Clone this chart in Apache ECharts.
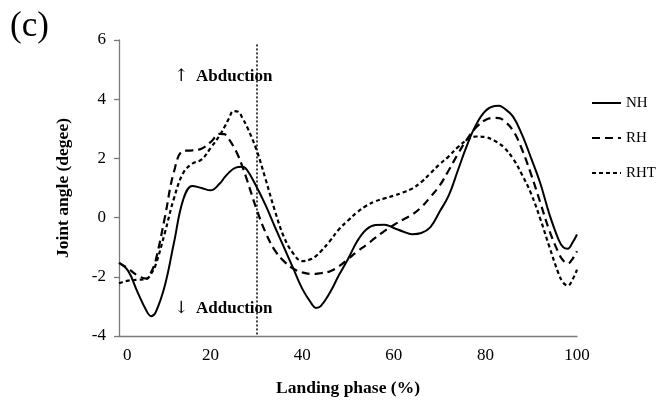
<!DOCTYPE html>
<html>
<head>
<meta charset="utf-8">
<script src="https://cdn.jsdelivr.net/npm/echarts@6/dist/echarts.min.js"></script>
<style>
html,body{margin:0;padding:0;background:#fff;}
#chart{width:658px;height:406px;}
</style>
</head>
<body>
<div id="chart"></div>
<script>
// Landing phase (%) sample positions shared by all series
const phase = [0,2,4,6,7,8,10,12,14,16,18,20,22,23,24,25,26,27,28,30,32,34,36,38,40,42,43,44,46,48,50,52,54,56,58,60,62,64,66,68,70,72,74,76,78,80,82,83,84,86,88,90,92,94,96,97,98,99,100];
const nh  = [-1.53,-1.8,-2.5,-3.15,-3.33,-3.2,-2.3,-0.85,0.6,1.07,1.0,0.92,1.15,1.35,1.52,1.65,1.71,1.72,1.6,1.05,0.42,-0.3,-1.0,-1.7,-2.4,-2.9,-3.05,-3.0,-2.55,-1.95,-1.4,-0.8,-0.4,-0.25,-0.24,-0.35,-0.47,-0.56,-0.52,-0.32,0.2,0.75,1.6,2.45,3.15,3.6,3.77,3.78,3.7,3.42,2.8,2.0,1.15,0.1,-0.75,-1.0,-1.05,-0.85,-0.57];
const rh  = [-1.53,-1.72,-1.95,-2.06,-1.85,-1.45,0.0,1.55,2.25,2.27,2.33,2.55,2.83,2.82,2.65,2.4,2.1,1.7,1.25,0.3,-0.5,-1.1,-1.47,-1.72,-1.85,-1.9,-1.9,-1.88,-1.82,-1.65,-1.4,-1.15,-0.92,-0.68,-0.45,-0.25,-0.07,0.1,0.35,0.7,1.08,1.6,2.15,2.65,3.05,3.3,3.37,3.36,3.28,2.95,2.3,1.45,0.5,-0.45,-1.2,-1.45,-1.55,-1.4,-1.14];
const rht = [-2.22,-2.13,-2.1,-2.07,-1.9,-1.6,-0.52,0.65,1.5,1.82,1.96,2.35,2.78,3.05,3.35,3.6,3.58,3.35,3.05,2.3,1.3,0.25,-0.65,-1.2,-1.47,-1.4,-1.3,-1.15,-0.8,-0.4,-0.1,0.18,0.4,0.55,0.65,0.74,0.85,0.98,1.2,1.5,1.8,2.07,2.38,2.62,2.74,2.72,2.6,2.5,2.38,2.0,1.45,0.8,-0.05,-1.0,-1.9,-2.2,-2.3,-2.1,-1.76];
const seriesNames = ['NH','RH','RHT'];
const yTicks = {min:-4, max:6, interval:2};
const xTicks = {min:0, max:100, interval:20};
const markerPhase = 30;      // vertical dotted reference line
const markerTopValue = 5.85;

const pairs = (ys) => phase.map((x, i) => [x, ys[i]]);
const serif = '"Liberation Serif","Times New Roman",serif';

const chart = echarts.init(document.getElementById('chart'));
chart.setOption({
  animation: false,
  backgroundColor: '#fff',
  grid: {left: 119, right: 81, top: 40, bottom: 70},
  xAxis: {
    type: 'value', min: xTicks.min, max: xTicks.max, interval: xTicks.interval,
    name: 'Landing phase (%)', nameLocation: 'middle', nameGap: 43,
    nameTextStyle: {fontFamily: serif, fontWeight: 'bold', fontSize: 17.5, color: '#000'},
    axisLine: {onZero: false, lineStyle: {color: '#7a7a7a', width: 1.3}},
    axisTick: {show: false},
    splitLine: {show: false},
    axisLabel: {
      fontFamily: serif, fontSize: 17, color: '#000', margin: 11,
      alignMinLabel: 'left',
      formatter: v => v === xTicks.min ? '{p|' + v + '}' : String(v),
      rich: {p: {fontFamily: serif, fontSize: 17, color: '#000', padding: [0, 0, 0, 4]}}
    }
  },
  yAxis: {
    type: 'value', min: yTicks.min, max: yTicks.max, interval: yTicks.interval,
    name: 'Joint angle (degee)', nameLocation: 'middle', nameGap: 47, nameRotate: 90,
    nameTextStyle: {fontFamily: serif, fontWeight: 'bold', fontSize: 17.5, color: '#000'},
    axisLine: {show: true, onZero: false, lineStyle: {color: '#7a7a7a', width: 1.3}},
    axisTick: {show: true, length: 5, inside: false, lineStyle: {color: '#7a7a7a', width: 1.3}},
    splitLine: {show: false},
    axisLabel: {fontFamily: serif, fontSize: 17, color: '#000', margin: 13}
  },
  legend: {
    orient: 'vertical', left: 591, top: 93, padding: 0,
    itemWidth: 29, itemHeight: 20, itemGap: 15,
    itemStyle: {opacity: 0},
    textStyle: {fontFamily: serif, fontSize: 15, color: '#000', lineHeight: 20},
    data: seriesNames
  },
  series: [
    {
      name: seriesNames[0], type: 'line', data: pairs(nh), smooth: 0.4, symbol: 'none',
      itemStyle: {color: '#000'},
      lineStyle: {color: '#000', width: 2, type: 'solid'},
      markLine: {
        silent: true, symbol: 'none', label: {show: false},
        lineStyle: {color: '#000', width: 1.5, type: [2, 2]},
        data: [[{coord: [markerPhase, markerTopValue]}, {coord: [markerPhase, yTicks.min]}]]
      }
    },
    {
      name: seriesNames[1], type: 'line', data: pairs(rh), smooth: 0.4, symbol: 'none',
      itemStyle: {color: '#000'},
      lineStyle: {color: '#000', width: 2.2, type: [8, 5]}
    },
    {
      name: seriesNames[2], type: 'line', data: pairs(rht), smooth: 0.4, symbol: 'none',
      itemStyle: {color: '#000'},
      lineStyle: {color: '#000', width: 2.2, type: [4, 3]}
    }
  ],
  graphic: [
    {type: 'text', left: 10, top: 9, style: {text: '(c)', font: '35px ' + serif, fill: '#000'}},
    {type: 'text', left: 174, top: 68, style: {text: '↑', font: '17px "DejaVu Serif",' + serif, fill: '#000'}},
    {type: 'text', left: 196, top: 68, style: {text: 'Abduction', font: 'bold 17px ' + serif, fill: '#000'}},
    {type: 'text', left: 174, top: 300, style: {text: '↓', font: '17px "DejaVu Serif",' + serif, fill: '#000'}},
    {type: 'text', left: 196, top: 300, style: {text: 'Adduction', font: 'bold 17px ' + serif, fill: '#000'}}
  ]
});
</script>
</body>
</html>
